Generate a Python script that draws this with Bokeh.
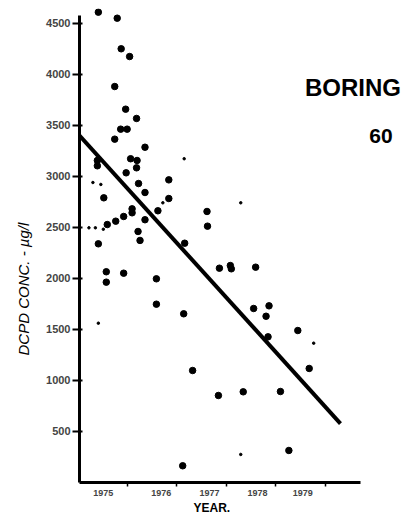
from bokeh.plotting import figure
from bokeh.models import FixedTicker, Range1d, Label, Title
from bokeh.embed import file_html
from bokeh.resources import INLINE

# ---- data ----
big_year = [1975.42, 1975.80, 1975.88, 1976.05, 1975.75, 1975.97, 1976.19, 1975.87, 1976.00,
            1975.75, 1976.36, 1975.40, 1975.40, 1976.07, 1976.20, 1976.19, 1975.98, 1976.84,
            1976.23, 1976.36, 1975.53, 1976.84, 1976.62, 1976.10, 1976.10, 1975.93, 1975.77,
            1975.60, 1976.36, 1976.22, 1976.26, 1975.42, 1977.16, 1977.61, 1977.62, 1976.59,
            1976.59, 1977.14, 1977.86, 1978.08, 1978.10, 1978.59, 1978.55, 1978.86, 1978.80,
            1978.84, 1979.44, 1979.67, 1977.32, 1977.84, 1978.34, 1979.09, 1979.26, 1975.58,
            1975.58, 1975.93, 1977.12]
big_conc = [4611, 4552, 4252, 4176, 3882, 3660, 3569, 3464, 3464,
            3366, 3287, 3157, 3105, 3174, 3157, 3085, 3036, 2967,
            2931, 2843, 2791, 2784, 2664, 2683, 2644, 2608, 2562,
            2529, 2576, 2461, 2373, 2340, 2346, 2657, 2513, 1997,
            1748, 1654, 2101, 2127, 2095, 2111, 1706, 1732, 1630,
            1428, 1490, 1118, 1098, 853, 889, 892, 314, 2066,
            1964, 2052, 164]

small_year = [1975.31, 1975.47, 1976.72, 1975.52, 1975.23, 1975.36, 1977.15, 1978.29,
              1979.76, 1975.42, 1978.29]
small_conc = [2941, 2922, 2742, 2483, 2497, 2497, 3174, 2742, 1366, 1562, 275]

trend_year = [1975.04, 1980.30]
trend_conc = [3402, 578]

y_ticks = [500, 1000, 1500, 2000, 2500, 3000, 3500, 4000, 4500]
y_tick_labels = ["500", "1000", "1500", "2000", "2500", "3000", "3500", "4000", "4500"]
year_label_pos = [1975.52, 1976.69, 1977.66, 1978.63, 1979.54]
year_labels = ["1975", "1976", "1977", "1978", "1979"]
year_bounds = [1976, 1977, 1978, 1979, 1980]

# ---- figure ----
p = figure(width=401, height=518, output_backend="svg", toolbar_location=None,
           x_range=Range1d(1975.04, 1981.53), y_range=Range1d(0, 4647),
           min_border_left=79, min_border_bottom=36, min_border_top=8, min_border_right=0)
p.outline_line_color = None
p.xgrid.visible = False
p.ygrid.visible = False
p.background_fill_color = "white"
p.border_fill_color = "white"

p.line(trend_year, trend_conc, line_color="black", line_width=4)
p.scatter(big_year, big_conc, size=6.5, color="black")
p.scatter(small_year, small_conc, size=2.5, color="black")

# x axis
xa = p.xaxis[0]
xa.bounds = (1975.04, 1980.71)
xa.ticker = FixedTicker(ticks=year_label_pos, minor_ticks=year_bounds)
xa.major_label_overrides = {t: l for t, l in zip(year_label_pos, year_labels)}
xa.major_tick_out = 0
xa.major_tick_in = 0
xa.minor_tick_out = 4
xa.minor_tick_in = 1
xa.minor_tick_line_width = 1.5
xa.axis_line_width = 3
xa.major_label_text_font = "Liberation Sans"
xa.major_label_text_font_style = "bold"
xa.major_label_text_font_size = "9px"
xa.major_label_standoff = 3

# y axis
ya = p.yaxis[0]
ya.bounds = (0, 4578)
ya.ticker = FixedTicker(ticks=y_ticks)
ya.major_label_overrides = {t: l for t, l in zip(y_ticks, y_tick_labels)}
ya.major_tick_out = 7
ya.major_tick_in = 3
ya.major_tick_line_width = 2
ya.minor_tick_out = 0
ya.minor_tick_in = 0
ya.axis_line_width = 3
ya.major_label_text_font = "Liberation Sans"
ya.major_label_text_font_style = "bold"
ya.major_label_text_font_size = "11px"
ya.major_label_standoff = 2

# axis titles
p.add_layout(Title(text="DCPD CONC. - \u00b5g/l", align="left", offset=127, standoff=23,
                   text_font="Liberation Sans", text_font_style="italic",
                   text_font_size="15px", text_color="black"), "left")
p.add_layout(Title(text="YEAR.", align="left", offset=114, standoff=1,
                   text_font="Liberation Sans", text_font_style="bold",
                   text_font_size="12px", text_color="black"), "below")

# texts
p.add_layout(Label(x=1981.52, y=3877, text="BORING", text_align="right", text_baseline="middle",
                   text_font="Liberation Sans", text_font_style="bold", text_font_size="24px",
                   text_color="black"))
p.add_layout(Label(x=1981.35, y=3397, text="60", text_align="right", text_baseline="middle",
                   text_font="Liberation Sans", text_font_style="bold", text_font_size="21px",
                   text_color="black"))

open("out.html", "w").write(file_html(p, INLINE))
